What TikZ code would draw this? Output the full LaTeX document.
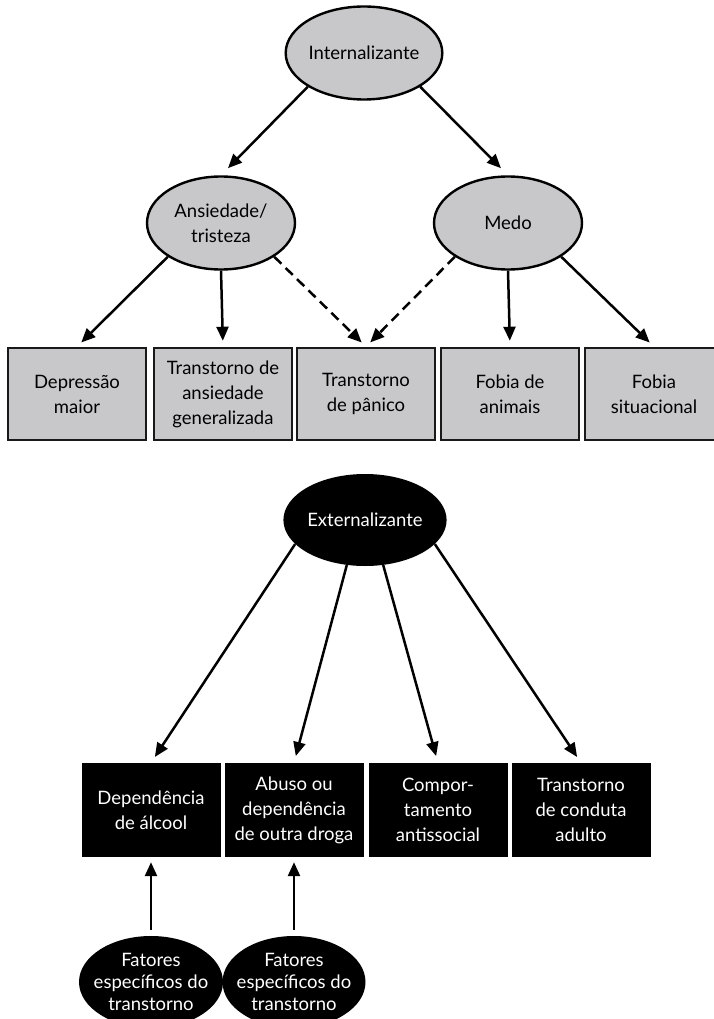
\documentclass[tikz,border=0pt]{standalone}
\usepackage{fontspec}
\setmainfont{Lato}
\usetikzlibrary{positioning}
\usetikzlibrary{shapes}
\usetikzlibrary{arrows.meta}

\definecolor{factorGray}{RGB}{200,200,202}

\tikzset{
	grayFactor/.style={ellipse, draw=black, line width=2.4pt, fill=factorGray, minimum width=148pt, minimum height=93pt, inner sep=0pt, align=center},
	grayBox/.style={rectangle, draw=black!90, line width=2.6pt, fill=factorGray, minimum width=138pt, minimum height=92pt, inner sep=0pt, align=center},
	blackFactor/.style={ellipse, fill=black, text=white, minimum width=146pt, minimum height=92pt, inner sep=0pt, align=center},
	blackBox/.style={rectangle, fill=black, text=white, minimum width=139pt, minimum height=94pt, inner sep=0pt, align=center},
	loading/.style={-{Triangle[length=14pt,width=12pt]}, line width=2.5pt},
	crossLoading/.style={loading, dash pattern=on 10pt off 6pt}
}

\begin{document}
\begin{tikzpicture}[x=1pt, y=-1pt, font=\fontsize{18.5}{25}\selectfont]
	\useasboundingbox (0,0) rectangle (713,1019);

	% internalizing spectrum
	\node[grayFactor](internalizante) at (364,53){Internalizante};
	\node[grayFactor](ansiedade) at (221,223){Ansiedade/\\tristeza};
	\node[grayFactor](medo) at (508,223){Medo};

	\node[grayBox](depressao) at (77,394){Depressão\\maior};
	\node[grayBox](ansiedadeGen) at (223,394){Transtorno de\\ansiedade\\generalizada};
	\node[grayBox](panico) at (366,394){Transtorno\\de pânico};
	\node[grayBox](fobiaAnimais) at (510,394){Fobia de\\animais};
	\node[grayBox](fobiaSituacional) at (654,394){Fobia\\situacional};

	\draw[loading, shorten >=10pt] (internalizante.south west) -- (ansiedade.north);
	\draw[loading, shorten >=10pt] (internalizante.south east) -- (medo.north);

	\draw[loading, shorten >=6pt] (ansiedade.south west) -- (depressao.north);
	\draw[loading, shorten >=6pt] (ansiedade.south) -- (ansiedadeGen.north);
	\draw[crossLoading, shorten >=6pt] (ansiedade.south east) -- (panico.north);
	\draw[crossLoading, shorten >=6pt] (medo.south west) -- (panico.north);
	\draw[loading, shorten >=6pt] (medo.south) -- (fobiaAnimais.north);
	\draw[loading, shorten >=6pt] (medo.south east) -- (fobiaSituacional.north);

	% externalizing spectrum
	\node[blackFactor](externalizante) at (365,520){Externalizante};

	\node[blackBox](alcool) at (151,810){Dependência\\de álcool};
	\node[blackBox](droga) at (294,810){Abuso ou\\dependência\\de outra droga};
	\node[blackBox](antissocial) at (438,810){Compor-\\tamento\\antissocial};
	\node[blackBox](conduta) at (581,810){Transtorno\\de conduta\\adulto};

	\draw[loading, shorten >=7pt] (externalizante.199) -- (alcool.north);
	\draw[loading, shorten >=7pt] (externalizante.248) -- (droga.north);
	\draw[loading, shorten >=7pt] (externalizante.292) -- (antissocial.north);
	\draw[loading, shorten >=7pt] (externalizante.341) -- (conduta.north);

	% text is wider than the ellipse, so the seps go negative
	\node[blackFactor, font=\fontsize{18.5}{22}\selectfont, inner xsep=-14pt, inner ysep=-6pt, minimum width=144pt](especificos1) at (151,982){Fatores\\específicos do\\transtorno};
	\node[blackFactor, font=\fontsize{18.5}{22}\selectfont, inner xsep=-14pt, inner ysep=-6pt, minimum width=143pt](especificos2) at (294,982){Fatores\\específicos do\\transtorno};

	\draw[loading, shorten <=6pt, shorten >=5pt] (especificos1.north) -- (alcool.south);
	\draw[loading, shorten <=6pt, shorten >=5pt] (especificos2.north) -- (droga.south);
\end{tikzpicture}
\end{document}
